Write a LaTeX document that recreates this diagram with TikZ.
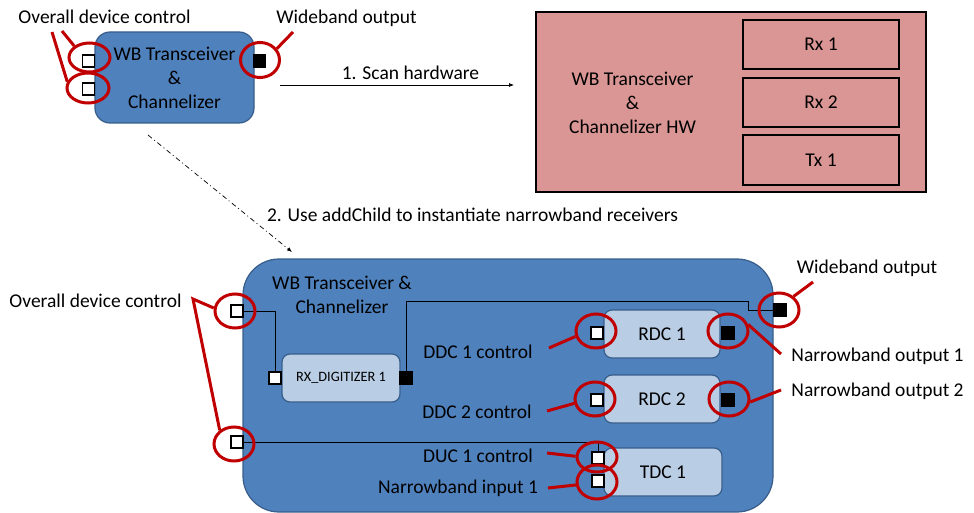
\documentclass[tikz,border=0pt]{standalone}
\usepackage{fontspec}
\setmainfont{Carlito}
\usetikzlibrary{shapes.geometric,arrows.meta}
\definecolor{wbfill}{HTML}{4F81BD}
\definecolor{wbedge}{HTML}{385D8A}
\definecolor{chfill}{HTML}{B9CDE5}
\definecolor{hwfill}{HTML}{D99694}
\definecolor{ringred}{HTML}{C00000}
\begin{document}
\begin{tikzpicture}[x=1pt, y=-1pt,
  every node/.style={font=\fontsize{19.5}{24}\selectfont, inner sep=0pt},
  wbbox/.style={draw=wbedge, fill=wbfill, line width=1.2pt},
  chbox/.style={draw=wbedge, fill=chfill, line width=1.2pt, rounded corners=8pt, minimum width=116pt, minimum height=48pt},
  hwbox/.style={draw=black, fill=hwfill, line width=1.8pt},
  inport/.style={draw=black, fill=white, line width=1.5pt, minimum size=12pt},
  outport/.style={inport, fill=black},
  ring/.style={ellipse, draw=ringred, line width=3pt, minimum width=40pt, minimum height=34pt},
  redline/.style={ringred, line width=3pt},
  wire/.style={black, line width=0.9pt},
  lbl/.style={anchor=base}]
\useasboundingbox (0,0) rectangle (974,513);

% hardware
\node[hwbox, minimum width=390pt, minimum height=180pt] (hw) at (731,102) {};
\node[align=center] (hwTxt) at (632.5,102.5) {WB Transceiver\\\&\\Channelizer HW};
\node[hwbox, line width=1.4pt, minimum width=156pt, minimum height=49pt] (rx1) at (821,44.5) {Rx 1};
\node[hwbox, line width=1.4pt, minimum width=156pt, minimum height=49pt] (rx2) at (821,102.5) {Rx 2};
\node[hwbox, line width=1.4pt, minimum width=156pt, minimum height=50pt] (tx1) at (821,160) {Tx 1};

% device before scan
\node[wbbox, rounded corners=15pt, minimum width=159pt, minimum height=91pt, align=center] (wb) at (174.5,77.5) {WB Transceiver\\\&\\Channelizer};
\node[inport] (wbCtlA) at (88.5,61) {};
\node[inport] (wbCtlB) at (88.5,89) {};
\node[outport] (wbOut) at (259.5,61) {};
\node[ring, minimum width=41pt, minimum height=29pt] (rgCtlA) at (89.5,57.5) {};
\node[ring, minimum width=42pt, minimum height=30pt] (rgCtlB) at (88,88) {};
\node[ring, minimum width=39pt, minimum height=35pt] (rgOut) at (260,60) {};
\node[lbl] (ctlTxt) at (104.5,24) {Overall device control};
\node[lbl] (outTxt) at (346.5,24) {Wideband output};
\coordinate (ctlTipA) at (62,31);
\coordinate (ctlTipB) at (52,32);
\coordinate (outTip) at (293,32);
\draw[redline] (ctlTipA) -- (rgCtlA.143);
\draw[redline] (ctlTipB) -- (rgCtlB.163);
\draw[redline] (outTip) -- (rgOut.34);

% steps
\coordinate (scanFrom) at (280,85);
\coordinate (scanTo) at (514,85);
\draw[wire, line width=0.7pt, -{Latex[length=5pt,width=4pt]}] (scanFrom) -- (scanTo);
\node[lbl] (scanTxt) at (410.5,80) {1. Scan hardware};
\coordinate (childFrom) at (148,135);
\coordinate (childTo) at (292,252);
\draw[line width=0.7pt, dash pattern=on 5pt off 3pt on 1pt off 3pt, -{Latex[length=5pt,width=4pt]}] (childFrom) -- (childTo);
\node[lbl] (childTxt) at (472.5,222) {2. Use addChild to instantiate narrowband receivers};

% device with children
\node[wbbox, rounded corners=36pt, minimum width=530pt, minimum height=253pt] (ch) at (508,385.5) {};
\node[align=center] (chTxt) at (342,295) {WB Transceiver \&\\Channelizer};
\node[chbox, minimum width=118pt, font=\fontsize{14.3}{17}\selectfont] (rxd) at (341,378) {RX\_DIGITIZER 1};
\node[chbox] (rdc1) at (662,334) {RDC 1};
\node[chbox] (rdc2) at (662,399) {RDC 2};
\node[chbox, minimum width=118pt] (tdc1) at (663,472) {TDC 1};

\node[inport] (chCtlA) at (237,311) {};
\node[inport] (chCtlB) at (237,442) {};
\node[outport] (chOut) at (780,310) {};
\node[inport] (rxdIn) at (275,378) {};
\node[outport] (rxdOut) at (406,378) {};
\node[inport] (rdc1Ctl) at (597,333) {};
\node[outport] (rdc1Out) at (728,333) {};
\node[inport] (rdc2Ctl) at (597,400) {};
\node[outport] (rdc2Out) at (728,400) {};
\node[inport] (tdcCtl) at (598,458) {};
\node[inport] (tdcIn) at (598,481) {};

\coordinate (wbJog) at (748,301);
\draw[wire] (chCtlA.east) -| (rxdIn.north);
\draw[wire] (rxdOut.north) |- (wbJog) |- (chOut.west);
\draw[wire] (chCtlB.east) -| (tdcCtl.north);

\node[ring] (rgChA) at (235,311) {};
\node[ring] (rgChB) at (234,444) {};
\node[ring] (rgChOut) at (779,310) {};
\node[ring] (rgRdc1Ctl) at (596,331) {};
\node[ring] (rgRdc1Out) at (728,331) {};
\node[ring] (rgRdc2Ctl) at (595,399) {};
\node[ring] (rgRdc2Out) at (729,399) {};
\node[ring, minimum height=30pt] (rgTdcCtl) at (597,457) {};
\node[ring] (rgTdcIn) at (597,482) {};

\node[lbl] (chCtlTxt) at (95.5,307) {Overall device control};
\node[lbl] (chOutTxt) at (867,273) {Wideband output};
\node[lbl] (rdc1CtlTxt) at (478,358) {DDC 1 control};
\node[lbl] (rdc2CtlTxt) at (477,418) {DDC 2 control};
\node[lbl] (tdcCtlTxt) at (478,462) {DUC 1 control};
\node[lbl] (tdcInTxt) at (458,493) {Narrowband input 1};
\node[lbl] (rdc1OutTxt) at (877.5,361) {Narrowband output 1};
\node[lbl] (rdc2OutTxt) at (877.5,396) {Narrowband output 2};

\coordinate (chCtlTip) at (193,299);
\coordinate (chOutTip) at (813,282);
\coordinate (rdc1CtlTip) at (549,348);
\coordinate (rdc2CtlTip) at (547,411);
\coordinate (tdcCtlTip) at (547,453);
\coordinate (tdcInTip) at (548,488);
\coordinate (rdc1OutTip) at (781,354);
\coordinate (rdc2OutTip) at (781,390);
\draw[redline] (rgChA.172) -- (chCtlTip) -- (rgChB.136);
\draw[redline] (rgChOut.43) -- (chOutTip);
\draw[redline] (rdc1CtlTip) -- (rgRdc1Ctl.195);
\draw[redline] (rdc2CtlTip) -- (rgRdc2Ctl.192);
\draw[redline] (tdcCtlTip) -- (rgTdcCtl.178);
\draw[redline] (tdcInTip) -- (rgTdcIn.188);
\draw[redline] (rgRdc1Out.18) -- (rdc1OutTip);
\draw[redline] (rgRdc2Out.-8) -- (rdc2OutTip);
\end{tikzpicture}
\end{document}
